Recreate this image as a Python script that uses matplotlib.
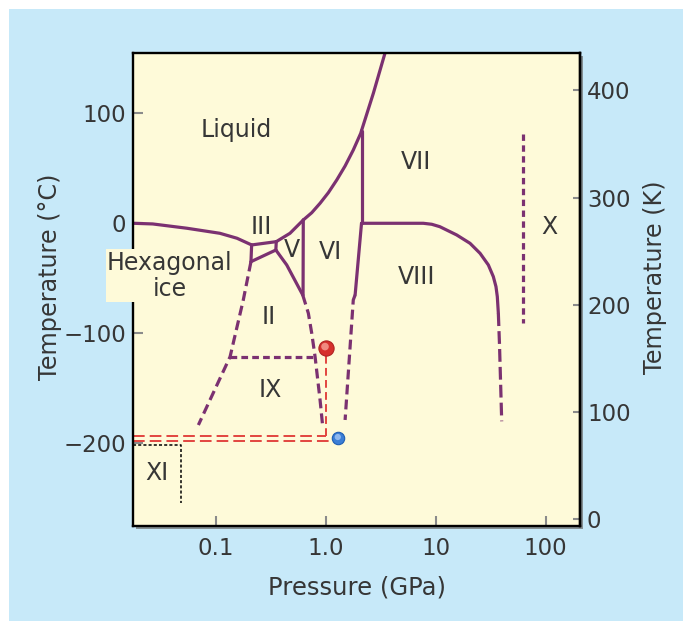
import numpy as np
import matplotlib.pyplot as plt
from matplotlib.patches import Rectangle
from matplotlib.ticker import NullLocator

# boundary lines (pressure in GPa, temperature in deg C)
ih_liq_p = [0.0178, 0.0267, 0.0546, 0.109, 0.156, 0.212]
ih_liq_t = [0, -0.6, -4.5, -9.1, -13.6, -19.7]
iii_liq_p = [0.212, 0.355]
iii_liq_t = [-19.7, -16.7]
v_liq_p = [0.355, 0.473, 0.625]
v_liq_t = [-16.7, -9.1, 3.0]
vi_liq_p = [0.625, 0.746, 0.888, 1.056, 1.26, 1.50, 1.78, 2.08, 2.115]
vi_liq_t = [3.0, 9.6, 18.2, 27.8, 39.4, 52.1, 66.6, 81.8, 84.2]
vii_liq_p = [2.115, 2.71, 3.46, 3.52]
vii_liq_t = [84.2, 118.2, 154.8, 158]

ih_iii_p = [0.212, 0.209]
ih_iii_t = [-19.7, -34.9]
ii_iii_p = [0.209, 0.352]
ii_iii_t = [-34.9, -24.3]
iii_v_p = [0.355, 0.352]
iii_v_t = [-16.7, -24.3]
v_vi_p = [0.625, 0.622]
v_vi_t = [3.0, -65.2]
ii_v_p = [0.352, 0.442, 0.618]
ii_v_t = [-24.3, -37.9, -65.2]
vi_vii_p = [2.115, 2.115]
vi_vii_t = [84.2, 0]
vi_viii_p = [2.115, 1.85]
vi_viii_t = [0, -65.2]
vii_viii_p = [2.115, 3.84, 5.45, 7.71, 9.2, 10.9, 15.5, 20.5, 25.3, 30.1, 33.4, 35.3, 36.3, 37.1]
vii_viii_t = [0, 0, 0, 0, -0.9, -3.1, -10.6, -18.2, -27.3, -37.9, -48.5, -57.6, -66.7, -81.8]

# dashed (uncertain) boundaries
ih_ii_p = [0.209, 0.178, 0.135, 0.0695]
ih_ii_t = [-34.9, -69.7, -121.3, -183.4]
ii_vi_p = [0.618, 0.695, 0.746, 0.80, 0.888, 0.939]
ii_vi_t = [-65.2, -81.8, -100, -121.3, -160.6, -184.9]
ix_top_p = [0.135, 0.80]
ix_top_t = [-121.3, -121.3]
vi_viii_low_p = [1.85, 1.78, 1.50]
vi_viii_low_t = [-65.2, -69.7, -178.8]
viii_low_p = [37.1, 38.0, 39.8]
viii_low_t = [-81.8, -110, -180]
x_p = [62.6, 62.6]
x_t = [81.3, -90.9]

# red / blue markers and guide lines
red_dot = (1.0, -113.6)
blue_dot = (1.30, -195.5)
red_upper_t = -193.1
red_lower_t = -197.9
xi_p = 0.0484
xi_t = [-201.5, -254.5]

labels = ['Liquid', 'III', 'V', 'VI', 'VII', 'VIII', 'X', 'II', 'IX', 'XI']
label_p = [0.155, 0.262, 0.491, 1.094, 6.61, 6.72, 109, 0.301, 0.312, 0.0291]
label_t = [84.8, -3.1, -24.3, -25.8, 55.4, -48.5, -3.1, -84.9, -151.5, -227.3]

x_ticks = [0.1, 1, 10, 100]
x_ticklabels = ['0.1', '1.0', '10', '100']
c_ticks = [-200, -100, 0, 100]
k_ticks = [0, 100, 200, 300, 400]

purple = '#7B3171'
red = '#E2453F'
yellow = '#FEFAD9'
blue_bg = '#C7E9F9'
txt = '#363636'

W, H = 683, 621
fig = plt.figure(figsize=(W / 100, H / 100), dpi=100)
fig.patch.set_facecolor('white')
fig.add_artist(Rectangle((9 / W, 0), 1 - 9 / W, 1 - 9 / H, transform=fig.transFigure,
                         facecolor=blue_bg, edgecolor='none', zorder=-2))

ax_rect = [133.3 / W, 95 / H, (580 - 133.3) / W, (526 - 53) / H]
fig.add_artist(Rectangle((ax_rect[0] + 3 / W, ax_rect[1] - 3 / H), ax_rect[2], ax_rect[3],
                         transform=fig.transFigure, facecolor='#6a6a6a', edgecolor='none',
                         alpha=0.7, zorder=-1))
ax = fig.add_axes(ax_rect)
ax.set_facecolor(yellow)
ax.set_xscale('log')
ax.set_xlim(0.0178, 205)
ax.set_ylim(-275.2, 154.8)

solid = dict(color=purple, lw=2.3, solid_capstyle='round', solid_joinstyle='round')
for p, t in [(ih_liq_p, ih_liq_t), (iii_liq_p, iii_liq_t), (v_liq_p, v_liq_t),
             (vi_liq_p, vi_liq_t), (vii_liq_p, vii_liq_t), (ih_iii_p, ih_iii_t),
             (ii_iii_p, ii_iii_t), (iii_v_p, iii_v_t), (v_vi_p, v_vi_t), (ii_v_p, ii_v_t),
             (vi_vii_p, vi_vii_t), (vi_viii_p, vi_viii_t), (vii_viii_p, vii_viii_t)]:
    ax.plot(p, t, **solid)

ax.plot(ih_ii_p, ih_ii_t, color=purple, lw=2.3, ls=(0, (3.1, 1.6)))
ax.plot(ii_vi_p, ii_vi_t, color=purple, lw=2.3, ls=(0, (3.1, 1.6)))
ax.plot(vi_viii_low_p, vi_viii_low_t, color=purple, lw=2.3, ls=(0, (3.1, 1.6)))
ax.plot(viii_low_p, viii_low_t, color=purple, lw=2.3, ls=(0, (4, 1.6)))
ax.plot(ix_top_p, ix_top_t, color=purple, lw=2.3, ls=(0, (2.1, 1.3)))
ax.plot(x_p, x_t, color=purple, lw=2.3, ls=(0, (2.0, 1.4)))

# red guide lines
xmin = ax.get_xlim()[0]
ax.plot([xmin, red_dot[0]], [red_upper_t, red_upper_t], color=red, lw=1.4, ls=(0, (6, 2.6)))
ax.plot([red_dot[0], red_dot[0]], [red_upper_t, red_dot[1]], color=red, lw=1.4, ls=(0, (4, 2.2)))
ax.plot([xmin, blue_dot[0]], [red_lower_t, red_lower_t], color=red, lw=1.4, ls=(0, (6, 2.6)))

# ice XI dotted corner
ax.plot([xmin, xi_p, xi_p], [xi_t[0], xi_t[0], xi_t[1]], color='black', lw=1.1,
        ls=(0, (2, 1.4)))

ax.scatter([red_dot[0]], [red_dot[1]], s=120, color='#D6302C', edgecolor='#B02323',
           linewidth=0.8, zorder=6)
ax.scatter([red_dot[0] * 0.985], [red_dot[1] + 1.5], s=30, color='#F08A80', edgecolor='none',
           zorder=7)
ax.scatter([blue_dot[0]], [blue_dot[1]], s=80, color='#3B7ED6', edgecolor='#1E5EB4',
           linewidth=0.8, zorder=6)
ax.scatter([blue_dot[0] * 0.99], [blue_dot[1] + 1.2], s=20, color='#8FB8EE', edgecolor='none',
           zorder=7)

for lab, p, t in zip(labels, label_p, label_t):
    ax.text(p, t, lab, fontsize=17, color=txt, ha='center', va='center')
ax.text(0.0383, -47.6, 'Hexagonal\nice', fontsize=17, color=txt, ha='center', va='center',
        linespacing=1.1, zorder=5, clip_on=False,
        bbox=dict(facecolor=yellow, edgecolor='none', pad=1))

for s in ax.spines.values():
    s.set_linewidth(1.7)
    s.set_color('black')

ax.set_xticks(x_ticks)
ax.set_xticklabels(x_ticklabels)
ax.xaxis.set_minor_locator(NullLocator())
ax.set_yticks(c_ticks)
ax.tick_params(axis='both', direction='in', color='#8a8a8a', width=1.5, length=7,
               labelsize=16.5, labelcolor=txt)
ax.tick_params(axis='x', pad=8)
ax.tick_params(axis='y', pad=5)

sec = ax.secondary_yaxis('right', functions=(lambda c: 1.026 * c + 276,
                                             lambda k: (k - 276) / 1.026))
sec.set_yticks(k_ticks)
sec.tick_params(direction='in', color='#8a8a8a', width=1.5, length=5, pad=5,
                labelsize=16.5, labelcolor=txt)
sec.spines['right'].set_linewidth(1.7)

ax.set_xlabel('Pressure (GPa)', fontsize=17.5, color=txt, labelpad=11)
ax.set_ylabel('Temperature (°C)', fontsize=17.2, color=txt)
ax.yaxis.set_label_coords(-0.160, 0.526)
sec.set_ylabel('Temperature (K)', fontsize=17.2, color=txt)
sec.yaxis.set_label_coords(1.142, 0.526, transform=ax.transAxes)

fig.savefig('out.png', dpi=100, facecolor=fig.get_facecolor())
